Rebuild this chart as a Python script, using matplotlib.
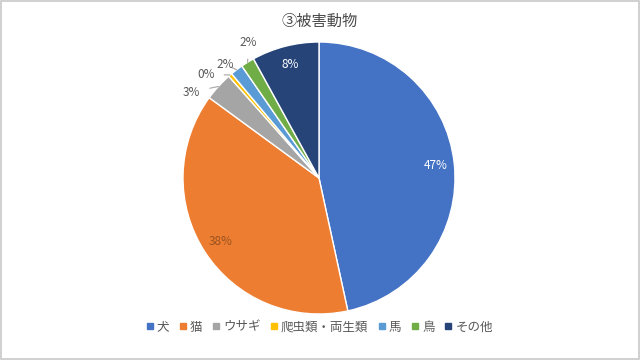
import matplotlib
matplotlib.use("Agg")
import matplotlib.pyplot as plt
import numpy as np
from matplotlib.lines import Line2D

plt.rcParams['font.family'] = ['Noto Sans CJK JP', 'DejaVu Sans']

title = "③被害動物"
categories = ["犬", "猫", "ウサギ", "爬虫類・両生類", "馬", "鳥", "その他"]
values = [46.6, 38.45, 3.4, 0.45, 1.5, 1.6, 8.0]
colors = ["#4472C4", "#ED7D31", "#A5A5A5", "#FFC000", "#5B9BD5", "#70AD47", "#264478"]

# label styling per slice: inside colour, or outside position (radius, math angle deg)
inside_colors = {0: "white", 1: "#9a5220", 6: "white"}
outside_pos = {2: (1.13, 146.0), 3: (1.13, 137.5), 4: (1.08, 129.5), 5: (1.12, 117.5)}

fig = plt.figure(figsize=(6.4, 3.6), dpi=100)
fig.patch.set_facecolor("white")
fig.add_artist(plt.Rectangle((0.002, 0.003), 0.996, 0.994, transform=fig.transFigure,
                             fill=False, edgecolor="#c8c8c8", linewidth=1.2))

cx, cy = 319 / 640, 1 - 178 / 360
w, h = 272 / 640, 272 / 360
ax = fig.add_axes([cx - w / 2, cy - h / 2, w, h])
wedges, _ = ax.pie(values, colors=colors, startangle=90, counterclock=False, radius=1,
                   wedgeprops=dict(edgecolor="white", linewidth=1.0))
ax.set_xlim(-1, 1)
ax.set_ylim(-1, 1)
ax.set_aspect("equal")
ax.axis("off")

total = sum(values)
for i, (wdg, v) in enumerate(zip(wedges, values)):
    pct = f"{round(v / total * 100):d}%"
    mid = np.deg2rad((wdg.theta1 + wdg.theta2) / 2)
    if i in outside_pos:
        r, a = outside_pos[i]
        a = np.deg2rad(a)
        tx, ty = r * np.cos(a), r * np.sin(a)
        ex, ey = np.cos(mid), np.sin(mid)
        ax.annotate(pct, xy=(ex, ey), xytext=(tx, ty), ha="center", va="center",
                    fontsize=8.5, color="#595959", annotation_clip=False,
                    arrowprops=dict(arrowstyle="-", color="#a6a6a6", lw=0.8,
                                    shrinkA=5, shrinkB=0))
    else:
        d = 0.86
        ax.text(d * np.cos(mid), d * np.sin(mid), pct, ha="center", va="center",
                fontsize=8.5, color=inside_colors.get(i, "white"))

fig.text(0.5, 1 - 21 / 360, title, ha="center", va="center", fontsize=11, color="#4a4a4a")

handles = [Line2D([0], [0], marker="s", linestyle="", markersize=4.5,
                  markerfacecolor=c, markeredgecolor=c) for c in colors]
fig.legend(handles, categories, loc="center", bbox_to_anchor=(0.5, 1 - 327 / 360), ncol=7,
           frameon=False, fontsize=9, handlelength=0.4, handletextpad=0.35,
           columnspacing=0.9, labelcolor="#595959")

fig.savefig("out.png", dpi=100)
